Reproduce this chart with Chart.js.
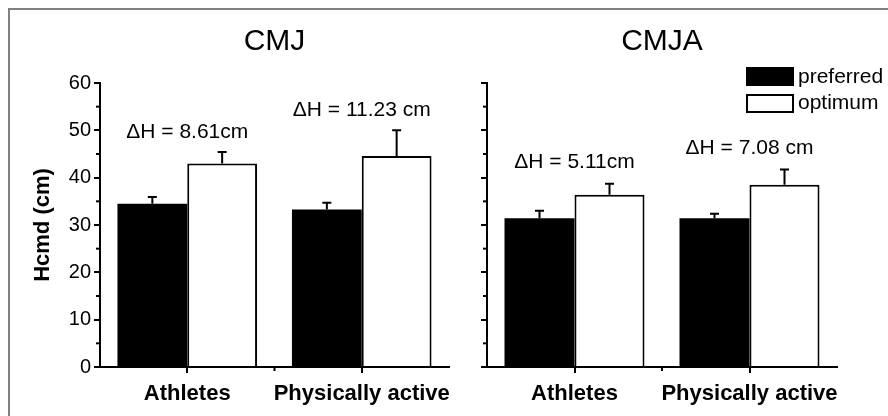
<!DOCTYPE html>
<html>
<head>
<meta charset="utf-8">
<script src="https://cdn.jsdelivr.net/npm/chart.js@4.4.1/dist/chart.umd.min.js"></script>
<style>
  body { margin:0; background:#fff; width:888px; height:416px; overflow:hidden; position:relative; }
  #frame { position:absolute; left:8px; top:8px; width:900px; height:420px; border-left:2px solid #808080; border-top:2px solid #808080; }
  canvas { position:absolute; top:0; }
  #cmj { left:0; }
  #cmja { left:450px; }
</style>
</head>
<body>
<div id="frame"></div>
<canvas id="cmj" width="480" height="416"></canvas>
<canvas id="cmja" width="438" height="416"></canvas>
<script>
// data
const groups = ['Athletes', 'Physically active']
const cmjPreferred = [34.5, 33.3]
const cmjPreferredErr = [1.4, 1.4]
const cmjOptimum = [43.0, 44.6]
const cmjOptimumErr = [2.4, 5.4]
const cmjDelta = ['\u0394H = 8.61cm', '\u0394H = 11.23 cm']
const cmjDeltaAt = [49.6, 54.2]

const cmjaPreferred = [31.4, 31.4]
const cmjaPreferredErr = [1.6, 1.0]
const cmjaOptimum = [36.4, 38.5]
const cmjaOptimumErr = [2.3, 3.2]
const cmjaDelta = ['\u0394H = 5.11cm', '\u0394H = 7.08 cm']
const cmjaDeltaAt = [43.2, 46.3]

const yTicks = [0, 10, 20, 30, 40, 50, 60]

const FONT = '"Liberation Sans", Arial, sans-serif'

// error bars, minor ticks, titles, delta labels and legend
const extras = {
  id: 'extras',
  afterDraw(chart, args, opts) {
    const ctx = chart.ctx
    const area = chart.chartArea
    const x = chart.scales.x, y = chart.scales.y
    ctx.save()
    ctx.strokeStyle = '#000'
    ctx.fillStyle = '#000'
    ctx.lineWidth = 2

    chart.data.datasets.forEach((ds, i) => {
      chart.getDatasetMeta(i).data.forEach((bar, j) => {
        const top = y.getPixelForValue(ds.data[j] + ds.errors[j])
        ctx.beginPath()
        ctx.moveTo(bar.x, bar.y)
        ctx.lineTo(bar.x, top)
        ctx.moveTo(bar.x - 4.5, top)
        ctx.lineTo(bar.x + 4.5, top)
        ctx.stroke()
      })
    })

    // minor ticks
    for (let v = 5; v < 60; v += 10) {
      const py = y.getPixelForValue(v)
      ctx.beginPath()
      ctx.moveTo(area.left - 4, py)
      ctx.lineTo(area.left, py)
      ctx.stroke()
    }
    const mid = (x.getPixelForValue(0) + x.getPixelForValue(1)) / 2
    ctx.beginPath()
    ctx.moveTo(mid, area.bottom)
    ctx.lineTo(mid, area.bottom + 4)
    ctx.stroke()

    // panel title
    ctx.textAlign = 'center'
    ctx.textBaseline = 'middle'
    ctx.font = '30px ' + FONT
    ctx.fillText(opts.title, (area.left + area.right) / 2, 42)

    // delta H labels
    ctx.font = '21px ' + FONT
    opts.labels.forEach((t, j) => {
      ctx.fillText(t, x.getPixelForValue(j), y.getPixelForValue(opts.labelsAt[j]))
    })

    if (opts.legend) {
      const lx = area.right - 91
      ctx.fillRect(lx, 67, 48, 19)
      ctx.strokeRect(lx + 1, 95, 46, 17)
      ctx.textAlign = 'left'
      ctx.font = '21px ' + FONT
      ctx.fillText('preferred', lx + 52, 77)
      ctx.fillText('optimum', lx + 52, 103)
    }
    ctx.restore()
  }
}

function makeChart(id, pre, preErr, opt, optErr, labels, labelsAt, cfg) {
  return new Chart(document.getElementById(id), {
    type: 'bar',
    data: {
      labels: groups,
      datasets: [{
        label: 'preferred',
        data: pre,
        errors: preErr,
        backgroundColor: '#000',
        borderColor: '#000',
        borderWidth: 0
      }, {
        label: 'optimum',
        data: opt,
        errors: optErr,
        backgroundColor: '#fff',
        borderColor: '#000',
        borderWidth: 2
      }]
    },
    options: {
      responsive: false,
      animation: false,
      events: [],
      layout: { padding: cfg.padding },
      categoryPercentage: 0.8,
      barPercentage: 1.0,
      scales: {
        x: {
          offset: true,
          afterFit: s => { s.height = 49 },
          grid: { offset: false, drawOnChartArea: false, tickLength: 6, color: '#000', lineWidth: 2 },
          border: { display: true, color: '#000', width: 2 },
          ticks: { color: '#000', padding: 8, maxRotation: 0, autoSkip: false, font: { family: FONT, size: 22, weight: 'bold' } }
        },
        y: {
          min: 0,
          max: 60,
          afterFit: s => { s.width = cfg.yWidth },
          afterBuildTicks: s => { s.ticks = yTicks.map(v => ({ value: v })) },
          grid: { drawOnChartArea: false, tickLength: 6, color: '#000', lineWidth: 2 },
          border: { display: true, color: '#000', width: 2 },
          ticks: {
            color: '#000',
            padding: 3,
            font: { family: FONT, size: 20 },
            callback: v => cfg.showY ? v : ''
          },
          title: {
            display: cfg.showY,
            text: 'Hcmd (cm)',
            color: '#000',
            padding: { top: 30 },
            font: { family: FONT, size: 22, weight: 'bold' }
          }
        }
      },
      plugins: {
        legend: { display: false },
        tooltip: { enabled: false },
        extras: { title: cfg.title, labels: labels, labelsAt: labelsAt, legend: cfg.legend }
      }
    },
    plugins: [extras]
  })
}

makeChart('cmj', cmjPreferred, cmjPreferredErr, cmjOptimum, cmjOptimumErr, cmjDelta, cmjDeltaAt,
  { title: 'CMJ', showY: true, yWidth: 100, legend: false, padding: { top: 83, right: 31, bottom: 0, left: 0 } })

makeChart('cmja', cmjaPreferred, cmjaPreferredErr, cmjaOptimum, cmjaOptimumErr, cmjaDelta, cmjaDeltaAt,
  { title: 'CMJA', showY: false, yWidth: 37, legend: true, padding: { top: 83, right: 51, bottom: 0, left: 0 } })
</script>
</body>
</html>
